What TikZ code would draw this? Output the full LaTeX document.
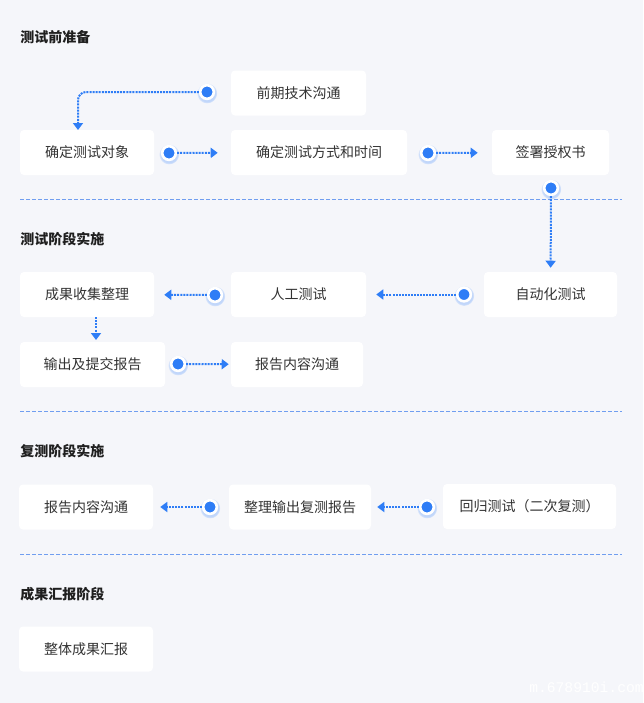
\documentclass[tikz,border=0pt]{standalone}
\usepackage{fontspec}
\setmainfont{Noto Sans CJK SC}
\newfontfamily\markfont{Liberation Mono}
\usetikzlibrary{arrows.meta,positioning,shadows,calc}
\definecolor{pagebg}{RGB}{245,246,250}
\definecolor{flowblue}{RGB}{46,125,246}
\definecolor{sepblue}{RGB}{112,158,240}
\definecolor{txt}{RGB}{51,51,51}

\begin{document}
\begin{tikzpicture}[x=0.75pt, y=-0.75pt, >={Triangle[length=5.25pt,width=7.5pt]},
  stepbox/.style={fill=white, rounded corners=3pt, minimum height=33.75pt, inner sep=0pt, text=txt, font=\fontsize{10.5}{12}\selectfont},
  heading/.style={anchor=west, inner sep=0pt, text=black!88, font=\fontsize{10.5}{12}\selectfont\bfseries},
  dot/.style={circle, fill=flowblue, draw=white, line width=2pt, minimum size=10.25pt, inner sep=0pt, circular drop shadow={shadow xshift=0pt, shadow yshift=-0.6pt, shadow scale=1.5, fill=flowblue!60, opacity=.45}},
  flow/.style={->, flowblue, line width=1.5pt, dash pattern=on 1.5pt off 0.8pt},
  sep/.style={sepblue, line width=0.75pt, dash pattern=on 3pt off 1.5pt}]
\path[fill=pagebg] (0,0) rectangle (643,703);

\node[heading] (h1) at (20,37) {测试前准备};
\node[stepbox, minimum width=101.25pt] (comm) at (298.5,93) {前期技术沟通};
\node[stepbox, minimum width=100.5pt] (target) at (87,152.5) {确定测试对象};
\node[stepbox, minimum width=132pt] (method) at (319,152.5) {确定测试方式和时间};
\node[stepbox, minimum width=87.75pt] (auth) at (550.5,152.5) {签署授权书};

\node[heading] (h2) at (20,239) {测试阶段实施};
\node[stepbox, minimum width=99.75pt] (auto) at (550.5,294.5) {自动化测试};
\node[stepbox, minimum width=101.25pt] (manual) at (298.5,294.5) {人工测试};
\node[stepbox, minimum width=100.5pt] (collect) at (87,294.5) {成果收集整理};
\node[stepbox, minimum width=108.75pt] (submit) at (92.5,364.5) {输出及提交报告};
\node[stepbox, minimum width=99pt] (talk) at (297,364.5) {报告内容沟通};

\node[heading] (h3) at (20,451) {复测阶段实施};
\node[stepbox, minimum width=129.75pt] (retest) at (529.5,506.5) {回归测试（二次复测）};
\node[stepbox, minimum width=106.5pt] (rerep) at (300,507) {整理输出复测报告};
\node[stepbox, minimum width=100.5pt] (retalk) at (86,507) {报告内容沟通};

\node[heading] (h4) at (20,594) {成果汇报阶段};
\node[stepbox, minimum width=100.5pt] (summary) at (86,649) {整体成果汇报};

\draw[sep] (20,199) -- (622,199);
\draw[sep] (20,411) -- (622,411);
\draw[sep] (20,554) -- (622,554);

\node[dot] (d1) at (207,92) {};
\node[dot] (d2) at (169,153) {};
\node[dot] (d3) at (428,153) {};
\node[dot] (d4) at (551,188) {};
\node[dot] (d5) at (464,294.5) {};
\node[dot] (d6) at (215,295) {};
\node[dot] (d7) at (178,364) {};
\node[dot] (d8) at (427,507) {};
\node[dot] (d9) at (210,507) {};
\coordinate (c1) at (78,130);
\coordinate (c2) at (96,340);

\draw[flow, rounded corners=6pt] (d1) -| (c1);
\draw[flow, shorten >=9.75pt] (d2) -- (method);
\draw[flow, shorten >=10.5pt] (d3) -- (auth);
\draw[flow, shorten >=3pt] (d4) -- (auto);
\draw[flow, shorten >=7.5pt] (d5) -- (manual);
\draw[flow, shorten >=7.5pt] (d6) -- (collect);
\draw[flow] (collect.south -| c2) -- (c2);
\draw[flow, shorten >=1.5pt] (d7) -- (talk);
\draw[flow, shorten >=4.5pt] (d8) -- (rerep);
\draw[flow, shorten >=5.25pt] (d9) -- (retalk);

\node[anchor=west, inner sep=0pt, text=white, font=\markfont\fontsize{11}{12}\selectfont] (mark) at (529,687) {m.678910i.com};
\end{tikzpicture}
\end{document}
